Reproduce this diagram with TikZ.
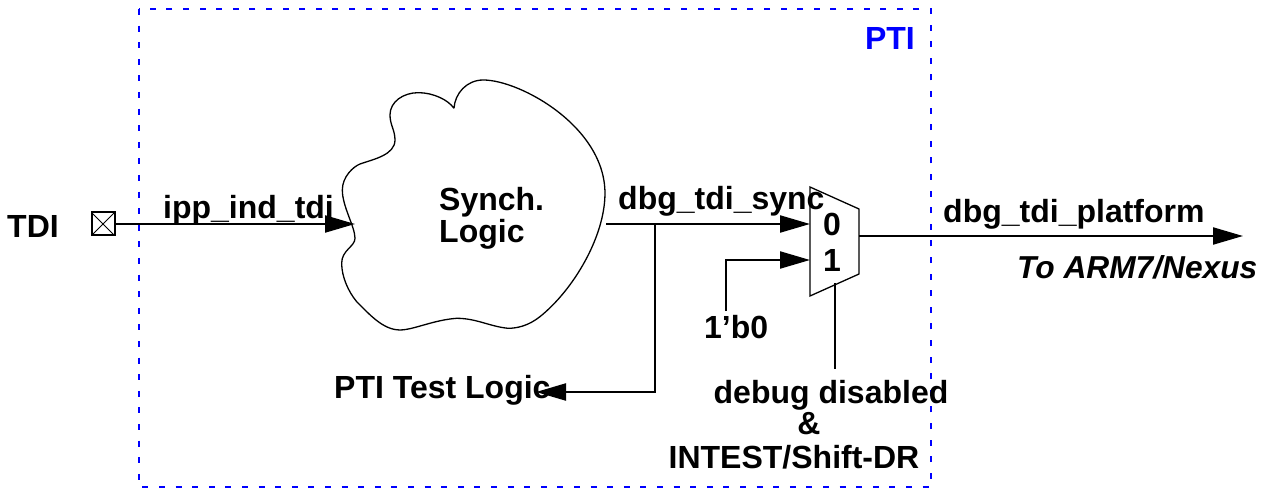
\documentclass[tikz,border=0pt]{standalone}
\usepackage{fontspec}
\setmainfont{Liberation Sans}
\usetikzlibrary{arrows.meta}
\tikzset{
  lbl/.style={font=\fontsize{32}{34}\selectfont\bfseries, inner sep=0pt, align=center},
  wire/.style={line width=2.2pt},
  sig/.style={wire, -{Triangle[length=30pt,width=17pt]}},
  thin line/.style={line width=1.3pt},
}
\begin{document}
\begin{tikzpicture}[x=1pt,y=-1pt]
\useasboundingbox (0,0) rectangle (1264,489);
% PTI box
\draw[blue, line width=2pt, dash pattern=on 6pt off 10.6pt] (139,9) rectangle (931,487);
\node[lbl, text=blue, anchor=east] (pti) at (915,38) {PTI};
% cloud
\begin{scope}[shift={(320pt,-70pt)}, x=0.3333pt, y=-0.3333pt]
\draw[thin line] (402,115)
 .. controls (405,70) and (440,30) .. (490,30)
 .. controls (600,30) and (855,170) .. (855,370)
 .. controls (855,500) and (760,660) .. (660,740)
 .. controls (625,768) and (590,775) .. (565,775)
 .. controls (510,770) and (470,745) .. (410,745)
 .. controls (340,750) and (280,780) .. (240,780)
 .. controls (190,780) and (150,735) .. (110,695)
 .. controls (85,665) and (65,620) .. (65,580)
 .. controls (65,540) and (105,530) .. (105,505)
 .. controls (105,470) and (67,410) .. (67,360)
 .. controls (67,320) and (100,290) .. (120,282)
 .. controls (160,268) and (225,255) .. (225,210)
 .. controls (225,180) and (210,165) .. (210,135)
 .. controls (210,95) and (250,68) .. (295,68)
 .. controls (340,68) and (385,90) .. (402,115);
\end{scope}
\node[lbl, align=left, anchor=west] (synch) at (439,218) {Synch.\\[-2pt]Logic};
% mux
\draw[thin line] (810,187) -- (859,209) -- (859,274) -- (810,296) -- cycle;
\node[lbl] (zero) at (832,224) {0};
\node[lbl] (one) at (832,260) {1};
% pad
\node[draw, line width=2pt, minimum size=23pt, inner sep=0pt, path picture={\draw[line width=0.8pt] (path picture bounding box.south west) -- (path picture bounding box.north east) (path picture bounding box.north west) -- (path picture bounding box.south east);}] (pad) at (103,224) {};
% coordinates
\coordinate (cloudin) at (355,224);
\coordinate (cloudout) at (606,224);
\coordinate (mux0) at (810,224);
\coordinate (mux1) at (810,260);
\coordinate (muxout) at (859,236);
\coordinate (out) at (1243,236);
\coordinate (branch) at (655,224);
\coordinate (test) at (536,392);
\coordinate (muxsel) at (835,283);
\coordinate (selend) at (835,369);
\coordinate (zeroend) at (726,311);
% wires
\draw[sig] (pad.east) -- (cloudin);
\draw[sig] (cloudout) -- (mux0);
\draw[sig] (branch) |- (test);
\draw[sig] (zeroend) |- (mux1);
\draw[sig] (muxout) -- (out);
\draw[wire] (muxsel) -- (selend);
% labels
\node[lbl, anchor=west] (tdi) at (7,226) {TDI};
\node[lbl, anchor=base west] (ipp) at (163,219) {ipp\_ind\_tdi};
\node[lbl, anchor=base west] (dbgs) at (618,210) {dbg\_tdi\_sync};
\node[lbl, anchor=base west] (dbgp) at (943,223) {dbg\_tdi\_platform};
\node[lbl, anchor=base west, font=\fontsize{31.7}{34}\selectfont\bfseries\itshape] (arm) at (1017,278) {To ARM7/Nexus};
\node[lbl, anchor=base west] (bzero) at (704,338) {1'b0};
\node[lbl, anchor=base west] (ptit) at (334,398) {PTI Test Logic};
\node[lbl, anchor=base] (dd) at (831,403) {debug disabled};
\node[lbl, anchor=base] (amp) at (809,434) {\&};
\node[lbl, anchor=base] (intest) at (794,468) {INTEST/Shift-DR};
\end{tikzpicture}
\end{document}
